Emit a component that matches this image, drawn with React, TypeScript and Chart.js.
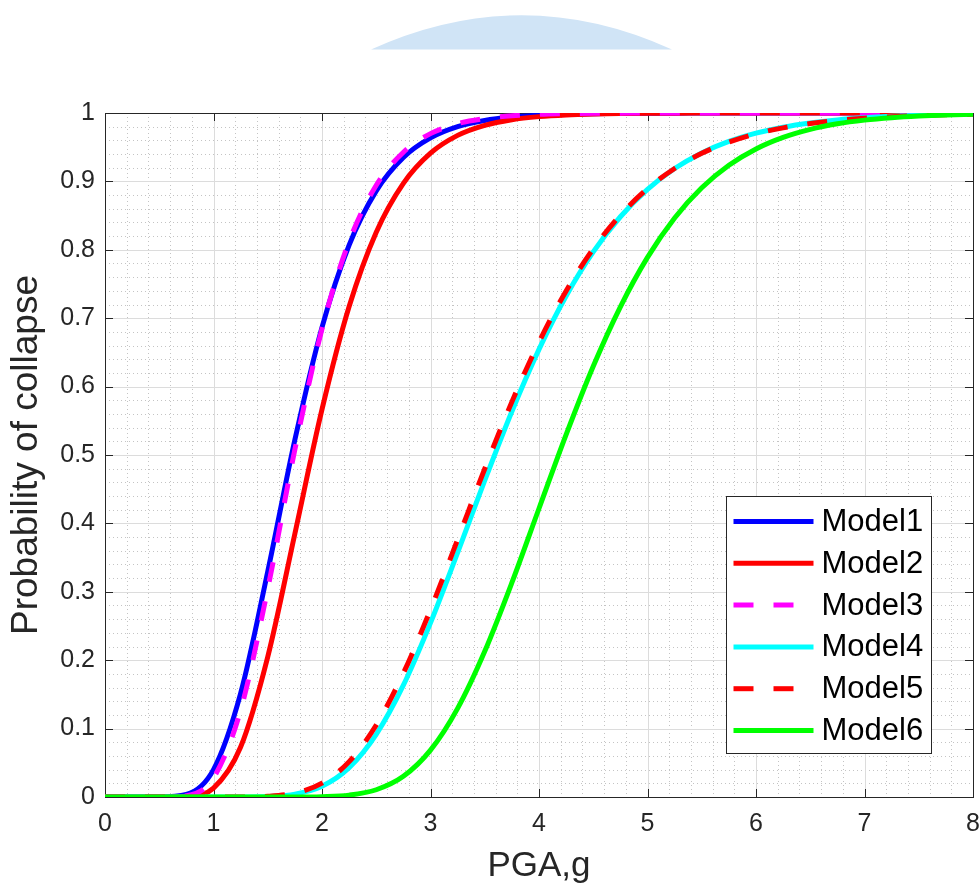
import React, { useEffect, useRef } from 'react';
import { Chart, registerables } from 'chart.js';

Chart.register(...registerables);

// PGA (g) sample points
const pga = [0, 0.25, 0.5, 0.75, 1, 1.25, 1.5, 1.75, 2, 2.25, 2.5, 2.75, 3, 3.25, 3.5, 3.75, 4, 4.25, 4.5, 4.75, 5, 5.25, 5.5, 5.75, 6, 6.25, 6.5, 6.75, 7, 7.25, 7.5, 7.75, 8];

// Probability of collapse
const model1 = [0, 0, 0, 0.0037, 0.0401, 0.1515, 0.3296, 0.5222, 0.6867, 0.8069, 0.8862, 0.935, 0.9636, 0.98, 0.989, 0.994, 0.9968, 0.9982, 0.999, 0.9995, 0.9997, 0.9998, 0.9999, 1, 1, 1, 1, 1, 1, 1, 1, 1, 1];
const model2 = [0, 0, 0, 0.0007, 0.0131, 0.0731, 0.205, 0.3849, 0.5666, 0.717, 0.8257, 0.8972, 0.9413, 0.9673, 0.982, 0.9902, 0.9947, 0.9972, 0.9985, 0.9992, 0.9996, 0.9998, 0.9999, 0.9999, 1, 1, 1, 1, 1, 1, 1, 1, 1];
const model3 = [0, 0, 0, 0.0019, 0.0281, 0.127, 0.3044, 0.5079, 0.6844, 0.8122, 0.8943, 0.9427, 0.9698, 0.9844, 0.992, 0.996, 0.998, 0.999, 0.9995, 0.9998, 0.9999, 1, 1, 1, 1, 1, 1, 1, 1, 1, 1, 1, 1];
const model4 = [0, 0, 0, 0, 0, 0, 0.0007, 0.0041, 0.0157, 0.0429, 0.0917, 0.1635, 0.2546, 0.3573, 0.4628, 0.5637, 0.6545, 0.7324, 0.7969, 0.8483, 0.8883, 0.9188, 0.9416, 0.9584, 0.9705, 0.9792, 0.9854, 0.9898, 0.9929, 0.9951, 0.9966, 0.9977, 0.9984];
const model5 = [0, 0, 0, 0, 0, 0.0001, 0.001, 0.0058, 0.0202, 0.0517, 0.1053, 0.181, 0.2739, 0.3764, 0.4799, 0.5777, 0.6651, 0.7399, 0.8015, 0.8508, 0.8894, 0.9189, 0.941, 0.9575, 0.9696, 0.9783, 0.9846, 0.9891, 0.9923, 0.9946, 0.9962, 0.9974, 0.9981];
const model6 = [0, 0, 0, 0, 0, 0, 0, 0, 0.0005, 0.0027, 0.0106, 0.0302, 0.0685, 0.1296, 0.213, 0.3133, 0.4218, 0.5297, 0.6297, 0.7167, 0.789, 0.8466, 0.8907, 0.9236, 0.9475, 0.9644, 0.9761, 0.9842, 0.9896, 0.9932, 0.9956, 0.9972, 0.9982];

const seriesNames = ['Model1', 'Model2', 'Model3', 'Model4', 'Model5', 'Model6'];
const xTickLabels = ['0', '1', '2', '3', '4', '5', '6', '7', '8'];
const yTickLabels = ['0', '0.1', '0.2', '0.3', '0.4', '0.5', '0.6', '0.7', '0.8', '0.9', '1'];
const xTitle = 'PGA,g';
const yTitle = 'Probability of collapse';

const seriesColors = ['#0000ff', '#ff0000', '#ff00ff', '#00ffff', '#ff0000', '#00ff00'];
const seriesDashed = [false, false, true, false, true, false];

const FONT = "'Liberation Sans', Arial, Helvetica, sans-serif";
const AXIS_COLOR = '#262626';

const matlabAxes = {
  id: 'matlabAxes',
  beforeDatasetsDraw(chart: any) {
    const { ctx, chartArea, scales } = chart;
    const { left, right, top, bottom } = chartArea;
    const xs = scales.x;
    const ys = scales.y;
    const line = (x1: number, y1: number, x2: number, y2: number) => {
      ctx.beginPath();
      ctx.moveTo(x1, y1);
      ctx.lineTo(x2, y2);
      ctx.stroke();
    };
    ctx.save();
    // minor dotted grid
    ctx.lineWidth = 1;
    ctx.strokeStyle = '#c4c4c4';
    ctx.setLineDash([1, 3]);
    for (let i = 1; i < 40; i++) {
      if (i % 5 === 0) continue;
      const px = Math.round(xs.getPixelForValue(i * 0.2)) + 0.5;
      line(px, top, px, bottom);
    }
    for (let i = 1; i < 50; i++) {
      if (i % 5 === 0) continue;
      const py = Math.round(ys.getPixelForValue(i * 0.02)) + 0.5;
      line(left, py, right, py);
    }
    // major grid
    ctx.setLineDash([]);
    ctx.strokeStyle = '#dcdcdc';
    xs.ticks.forEach((t: any) => {
      const px = Math.round(xs.getPixelForValue(t.value)) + 0.5;
      line(px, top, px, bottom);
    });
    ys.ticks.forEach((t: any) => {
      const py = Math.round(ys.getPixelForValue(t.value)) + 0.5;
      line(left, py, right, py);
    });
    // box
    ctx.strokeStyle = AXIS_COLOR;
    ctx.lineWidth = 1;
    ctx.strokeRect(Math.round(left) + 0.5, Math.round(top) + 0.5, Math.round(right - left), Math.round(bottom - top));
    // inward ticks on all sides
    const tl = 8;
    xs.ticks.forEach((t: any) => {
      const px = Math.round(xs.getPixelForValue(t.value)) + 0.5;
      line(px, bottom, px, bottom - tl);
      line(px, top, px, top + tl);
    });
    ys.ticks.forEach((t: any) => {
      const py = Math.round(ys.getPixelForValue(t.value)) + 0.5;
      line(left, py, left + tl, py);
      line(right, py, right - tl, py);
    });
    ctx.restore();
  },
  afterDraw(chart: any) {
    const { ctx, chartArea } = chart;
    const boxW = 205;
    const boxH = 257;
    const bx = Math.round(chartArea.right - 42 - boxW) + 0.5;
    const by = Math.round(chartArea.bottom - 44 - boxH) + 0.5;
    ctx.save();
    ctx.fillStyle = '#ffffff';
    ctx.fillRect(bx, by, boxW, boxH);
    ctx.strokeStyle = AXIS_COLOR;
    ctx.lineWidth = 1;
    ctx.strokeRect(bx, by, boxW, boxH);
    const ds = chart.data.datasets;
    const rowH = 41.8;
    ds.forEach((d: any, i: number) => {
      const cy = by + 25 + i * rowH;
      ctx.strokeStyle = d.borderColor;
      ctx.lineWidth = d.borderWidth;
      ctx.setLineDash(d.borderDash || []);
      ctx.lineCap = 'butt';
      ctx.beginPath();
      ctx.moveTo(bx + 7, cy);
      ctx.lineTo(bx + 87, cy);
      ctx.stroke();
      ctx.setLineDash([]);
      ctx.fillStyle = '#000000';
      ctx.font = `31px ${FONT}`;
      ctx.textAlign = 'left';
      ctx.textBaseline = 'middle';
      ctx.fillText(d.label, bx + 95, cy + 1);
    });
    ctx.restore();
  },
};

export default function App() {
  const canvasRef = useRef<HTMLCanvasElement>(null);

  useEffect(() => {
    const series = [model1, model2, model3, model4, model5, model6];
    const datasets = series.map((vals, i) => ({
      label: seriesNames[i],
      data: pga.map((x, j) => ({ x, y: vals[j] })),
      borderColor: seriesColors[i],
      backgroundColor: seriesColors[i],
      borderWidth: 5,
      borderDash: seriesDashed[i] ? [20, 20] : [],
      pointRadius: 0,
      pointHoverRadius: 0,
      cubicInterpolationMode: 'monotone' as const,
      fill: false,
      order: series.length - i,
    }));

    const chart = new Chart(canvasRef.current as HTMLCanvasElement, {
      type: 'line',
      data: { datasets },
      options: {
        animation: false,
        responsive: false,
        devicePixelRatio: 1,
        layout: { padding: { left: 0, top: 113, right: 6, bottom: 0 } },
        plugins: { legend: { display: false }, tooltip: { enabled: false } },
        scales: {
          x: {
            type: 'linear',
            min: 0,
            max: 8,
            afterBuildTicks: (s: any) => {
              s.ticks = xTickLabels.map((l) => ({ value: Number(l) }));
            },
            afterFit: (s: any) => {
              s.height = 89;
              s.paddingLeft = 0;
              s.paddingRight = 0;
            },
            grid: { display: false, drawTicks: false },
            border: { display: false },
            ticks: {
              autoSkip: false,
              maxRotation: 0,
              padding: 12,
              color: AXIS_COLOR,
              font: { family: FONT, size: 25 },
              callback: (_v: any, i: number) => xTickLabels[i],
            },
            title: {
              display: true,
              text: xTitle,
              color: AXIS_COLOR,
              font: { family: FONT, size: 35, lineHeight: 1.1 },
              padding: { top: 0, bottom: 0 },
            },
          },
          y: {
            type: 'linear',
            min: 0,
            max: 1,
            afterBuildTicks: (s: any) => {
              s.ticks = yTickLabels.map((l) => ({ value: Number(l) }));
            },
            afterFit: (s: any) => {
              s.width = 105;
              s.paddingTop = 0;
              s.paddingBottom = 0;
            },
            grid: { display: false, drawTicks: false },
            border: { display: false },
            ticks: {
              autoSkip: false,
              padding: 10,
              color: AXIS_COLOR,
              font: { family: FONT, size: 25 },
              callback: (_v: any, i: number) => yTickLabels[i],
            },
            title: {
              display: true,
              text: yTitle,
              color: AXIS_COLOR,
              font: { family: FONT, size: 37 },
              padding: { top: 5, bottom: 0 },
            },
          },
        },
      },
      plugins: [matlabAxes],
    });

    return () => chart.destroy();
  }, []);

  return (
    <div style={{ position: 'absolute', left: 0, top: 0, width: 979, height: 886, background: '#ffffff', overflow: 'hidden' }}>
      <svg width={979} height={886} style={{ position: 'absolute', left: 0, top: 0 }}>
        <path d="M371 49.5 Q521.5 -19 672 49.5 Z" fill="#d0e4f6" />
      </svg>
      <canvas ref={canvasRef} width={979} height={886} style={{ position: 'absolute', left: 0, top: 0 }} />
    </div>
  );
}
